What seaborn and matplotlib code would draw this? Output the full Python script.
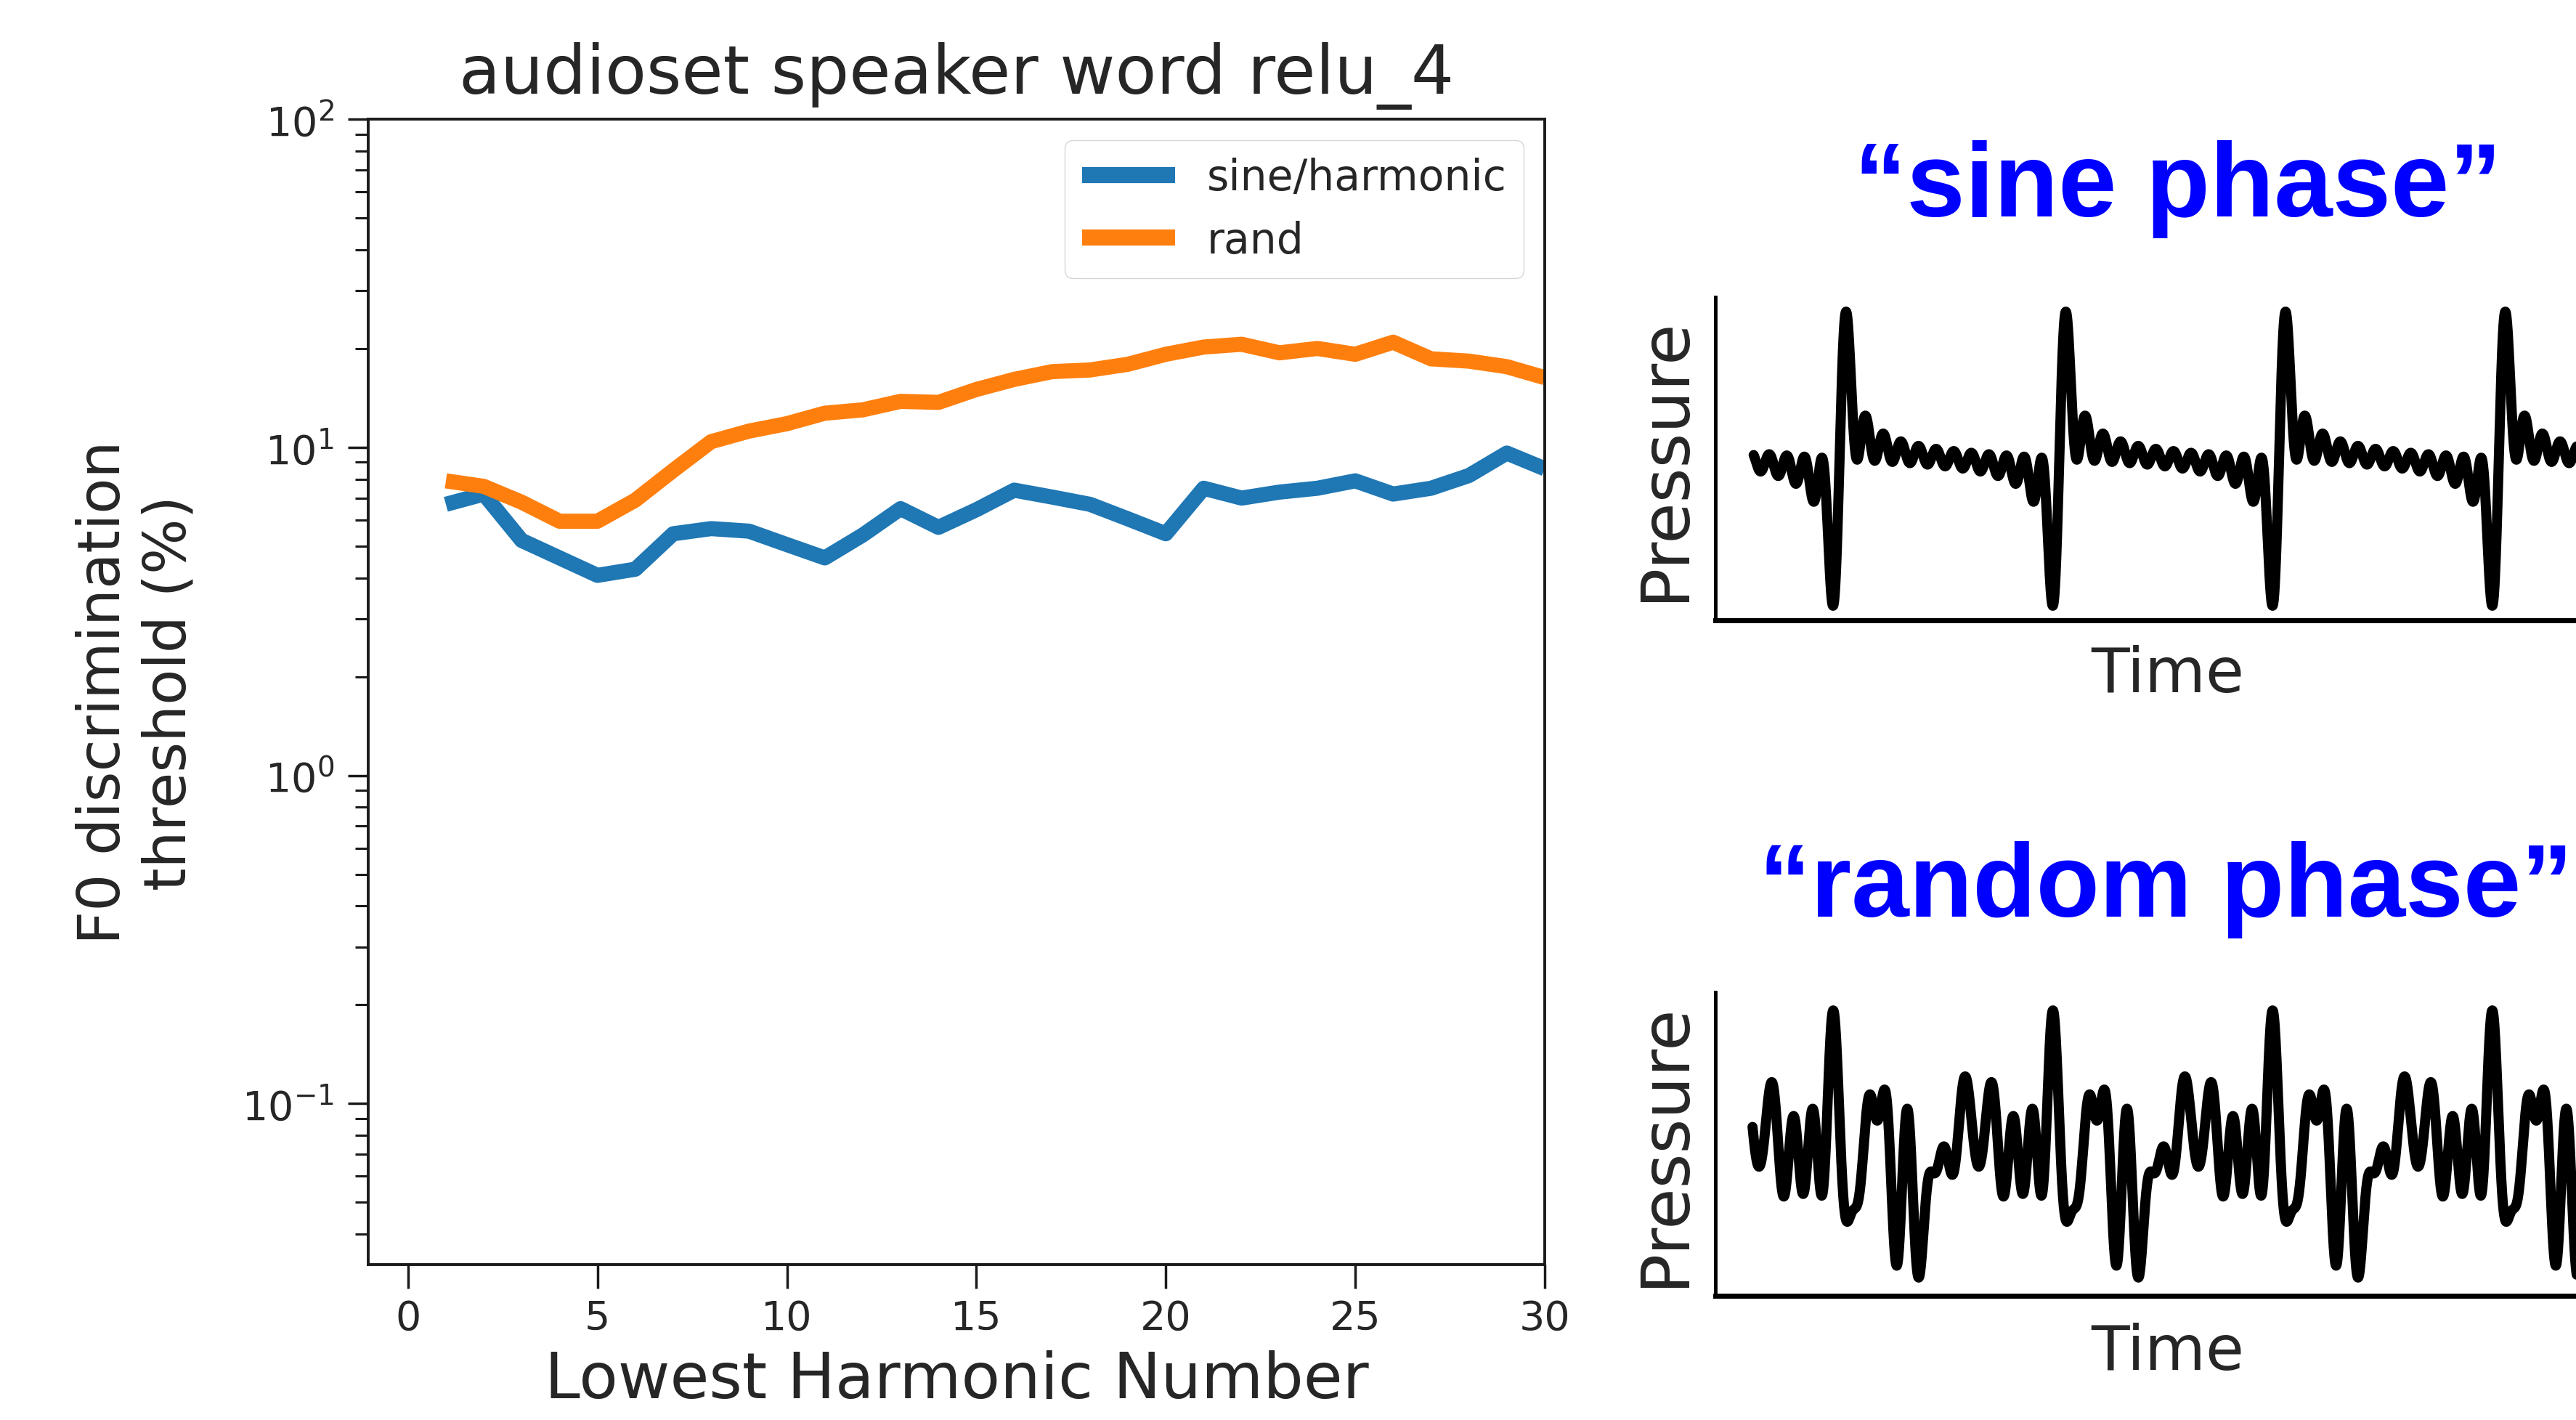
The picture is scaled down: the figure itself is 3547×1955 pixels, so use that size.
import numpy as np
import pandas as pd
import matplotlib
matplotlib.use("Agg")
import matplotlib.pyplot as plt
import seaborn as sns

sns.set_style("ticks")
plt.rcParams['font.family'] = ['DejaVu Sans']

# ---------------- data ----------------
harmonic_number = list(range(1, 31))
sine_harmonic = [6.7, 7.2, 5.2, 4.6, 4.07, 4.25, 5.45, 5.65, 5.55, 5.05,
                 4.6, 5.4, 6.5, 5.7, 6.45, 7.4, 7.05, 6.7, 6.05, 5.45,
                 7.5, 7.0, 7.3, 7.5, 7.9, 7.2, 7.5, 8.2, 9.6, 8.6]
rand_phase = [7.9, 7.6, 6.8, 5.95, 5.95, 6.9, 8.5, 10.4, 11.2, 11.8,
              12.7, 13.0, 13.8, 13.7, 15.0, 16.1, 17.0, 17.2, 17.9, 19.2,
              20.2, 20.6, 19.4, 20.0, 19.2, 20.9, 18.6, 18.3, 17.6, 16.3]
series_names = ["sine/harmonic", "rand"]
x_ticks = [0, 5, 10, 15, 20, 25, 30]

# waveform illustrations: harmonics of the tone and the phases of the
# "random phase" version
wave_harmonics = [1, 2, 3, 4, 5, 6, 7, 8, 9, 10, 11, 12]
random_phases = [0.99, -1.61, 1.50, 0.76, 0.43, -0.23, -0.98, 1.28, -0.83, -1.04, 1.20, 0.39]

W, H = 3548, 1956
fig = plt.figure(figsize=(W / 100, H / 100), dpi=100)

# ---------------- main chart ----------------
ax = fig.add_axes([507 / W, 1 - 1742 / H, 1620 / W, 1577 / H])
df = pd.DataFrame({
    "x": harmonic_number * 2,
    "y": sine_harmonic + rand_phase,
    "cond": [series_names[0]] * len(harmonic_number) + [series_names[1]] * len(harmonic_number),
})
sns.lineplot(data=df, x="x", y="y", hue="cond", palette=["#1f77b4", "#ff7f0e"],
             linewidth=15, ax=ax, legend=True)
for ln in ax.lines:
    ln.set_solid_capstyle("butt")
ax.set_yscale("log")
ax.set_ylim(0.0323, 100)
ax.set_xlim(-1.05, 30)
ax.set_xticks(x_ticks)
for s in ax.spines.values():
    s.set_visible(True)
    s.set_linewidth(2.8)
    s.set_color("#1a1a1a")
ax.tick_params(axis="both", which="major", labelsize=40, width=2.5, color="#1a1a1a")
ax.tick_params(axis="x", which="major", length=24, pad=10)
ax.tick_params(axis="y", which="major", length=20, pad=14)
ax.tick_params(axis="y", which="minor", length=13, width=2.2, color="#1a1a1a")
ax.set_title("audioset speaker word relu_4", fontsize=67, pad=26)
ax.set_xlabel("Lowest Harmonic Number", fontsize=63)
ax.set_ylabel("F0 discrimination\nthreshold (%)", fontsize=58)
ax.xaxis.set_label_coords(0.5, -0.074)
ax.yaxis.set_label_coords(-0.145, 0.5)
leg = ax.legend(loc="upper right", fontsize=42, handlelength=2.2, borderaxespad=0.5,
                borderpad=0.4, handletextpad=0.75, labelspacing=0.5,
                frameon=True, fancybox=True, edgecolor="#cccccc", framealpha=0.8)
for h in leg.get_lines():
    h.set_linewidth(16)
    h.set_solid_capstyle("butt")

# ---------------- waveforms ----------------
def wave_axes(rect, t0, t1, tstart, yvals_fn, marg):
    a = fig.add_axes(rect)
    t = np.linspace(tstart, t1, 6000)
    y = yvals_fn(t)
    sns.lineplot(x=t, y=y, color="black", linewidth=10, ax=a, estimator=None, sort=False)
    a.set_xlim(t0, t1)
    R = y.max() - y.min()
    pad = marg * R / (1 - 2 * marg)
    a.set_ylim(y.min() - pad, y.max() + pad)
    a.set_xticks([]); a.set_yticks([])
    a.spines["top"].set_visible(False); a.spines["right"].set_visible(False)
    a.spines["left"].set_linewidth(3.5); a.spines["bottom"].set_linewidth(5)
    a.spines["left"].set_color("black"); a.spines["bottom"].set_color("black")
    a.set_facecolor("none")
    a.set_ylabel("Pressure", fontsize=66)
    a.set_xlabel("Time", fontsize=62)
    a.yaxis.set_label_coords(-0.02, 0.5)
    return a

def sine_wave(t):
    x = 2 * np.pi * t
    return sum(np.sin(k * x) for k in wave_harmonics)

def rand_wave(t):
    x = 2 * np.pi * t
    return sum(np.cos(k * x + p) for k, p in zip(wave_harmonics, random_phases))

a1 = wave_axes([2362 / W, 1 - 855 / H, 1246 / W, 445 / H], -0.565, 3.553, -0.391, sine_wave, 0.045)
a1.xaxis.set_label_coords(0.5, -0.075)
a2 = wave_axes([2362 / W, 1 - 1785 / H, 1246 / W, 418 / H], -0.539, 3.58, -0.370, rand_wave, 0.06)
a2.xaxis.set_label_coords(0.5, -0.085)

fig.text(2999 / W, 1 - 298 / H, "\u201csine phase\u201d", fontsize=104, fontweight="bold",
         color="#0000ff", ha="center", va="baseline", family="Liberation Sans")
fig.text(3543 / W, 1 - 1262 / H, "\u201crandom phase\u201d", fontsize=103, fontweight="bold",
         color="#0000ff", ha="right", va="baseline", family="Liberation Sans")

fig.savefig("out.png", dpi=100, facecolor="white")
